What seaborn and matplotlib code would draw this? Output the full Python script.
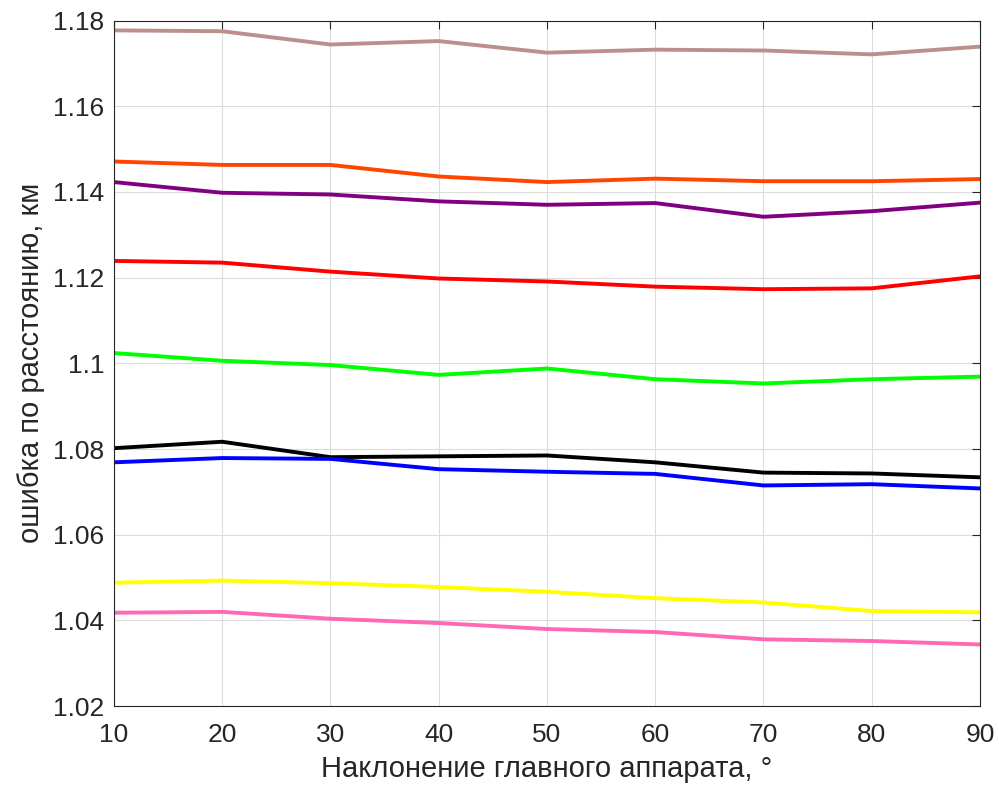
import matplotlib
matplotlib.use('Agg')
import matplotlib.pyplot as plt
import seaborn as sns
import pandas as pd

# углы наклона главного аппарата, градусы
angles = [10, 20, 30, 40, 50, 60, 70, 80, 90]

# ошибка по расстоянию, км (по кривым сверху вниз)
err_brown = [1.1777, 1.1775, 1.1744, 1.1752, 1.1725, 1.1732, 1.1730, 1.1721, 1.1739]
err_orange = [1.1471, 1.1463, 1.1463, 1.1436, 1.1423, 1.1431, 1.1425, 1.1425, 1.1430]
err_purple = [1.1423, 1.1398, 1.1394, 1.1378, 1.1370, 1.1374, 1.1342, 1.1355, 1.1375]
err_red = [1.1239, 1.1235, 1.1214, 1.1198, 1.1191, 1.1179, 1.1173, 1.1175, 1.1203]
err_green = [1.1024, 1.1006, 1.0996, 1.0973, 1.0988, 1.0963, 1.0953, 1.0963, 1.0969]
err_black = [1.0802, 1.0817, 1.0781, 1.0783, 1.0785, 1.0769, 1.0745, 1.0743, 1.0734]
err_blue = [1.0769, 1.0779, 1.0777, 1.0753, 1.0747, 1.0742, 1.0715, 1.0718, 1.0708]
err_yellow = [1.0488, 1.0493, 1.0487, 1.0478, 1.0467, 1.0452, 1.0442, 1.0422, 1.0419]
err_pink = [1.0418, 1.0420, 1.0404, 1.0394, 1.0380, 1.0373, 1.0356, 1.0352, 1.0344]

series = {
    'brown': err_brown, 'orange': err_orange, 'purple': err_purple,
    'red': err_red, 'green': err_green, 'black': err_black,
    'blue': err_blue, 'yellow': err_yellow, 'pink': err_pink,
}
colors = {
    'brown': '#BC8F8F', 'orange': '#FF4500', 'purple': '#800080',
    'red': '#FF0000', 'green': '#00FF00', 'black': '#000000',
    'blue': '#0000FF', 'yellow': '#FFFF00', 'pink': '#FF69B4',
}

df = pd.DataFrame([
    {'angle': a, 'err': v, 'curve': name}
    for name, vals in series.items()
    for a, v in zip(angles, vals)
])

sns.set_style('white')
plt.rcParams['font.family'] = ['Liberation Sans', 'DejaVu Sans']

fig = plt.figure(figsize=(9.99, 7.89), dpi=100)
ax = fig.add_axes([0.114, 0.105, 0.867, 0.869])

sns.lineplot(data=df, x='angle', y='err', hue='curve', palette=colors,
             linewidth=2.8, legend=False, ax=ax)

ax.set_xlim(10, 90)
ax.set_ylim(1.02, 1.18)
ax.set_xticks(angles)
yt = [1.02, 1.04, 1.06, 1.08, 1.1, 1.12, 1.14, 1.16, 1.18]
ax.set_yticks(yt)
ax.set_yticklabels(['1.02', '1.04', '1.06', '1.08', '1.1', '1.12', '1.14', '1.16', '1.18'])
ax.grid(True, color='#dcdcdc', linewidth=0.8)
ax.set_axisbelow(True)
ax.tick_params(direction='in', length=6, width=0.8, colors='#262626',
               labelsize=19, top=True, right=True)
ax.tick_params(axis='x', pad=12)
ax.tick_params(axis='y', pad=7)
for s in ax.spines.values():
    s.set_color('#262626')
    s.set_linewidth(0.8)

ax.set_xlabel('Наклонение главного аппарата, °', fontsize=21, color='#262626', labelpad=6)
ax.set_ylabel('ошибка по расстоянию, км', fontsize=21, color='#262626', labelpad=6)

fig.savefig('out.png', dpi=100)
